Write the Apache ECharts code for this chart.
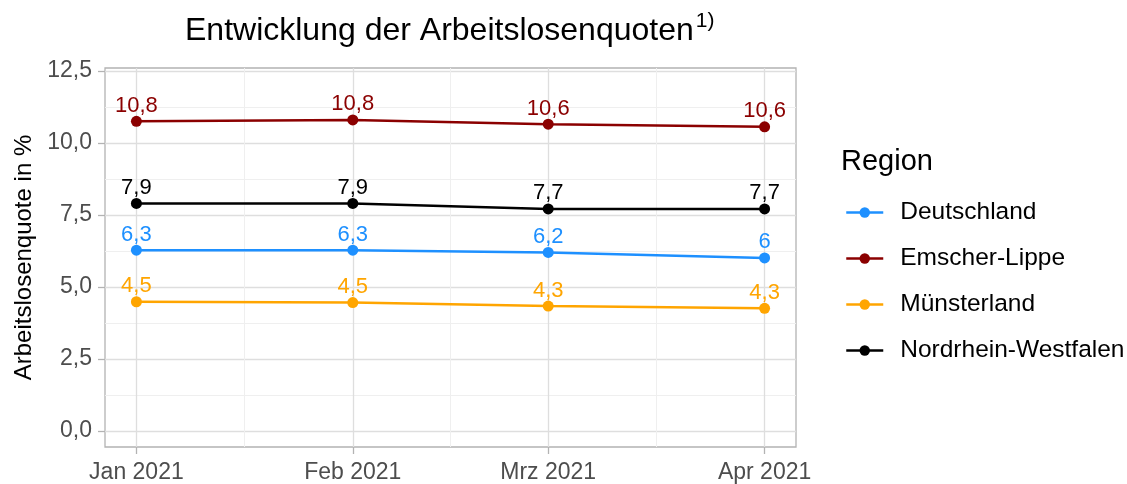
<!DOCTYPE html>
<html>
<head>
<meta charset="utf-8">
<script src="https://cdn.jsdelivr.net/npm/echarts@6/dist/echarts.min.js"></script>
<style>
html,body{margin:0;padding:0;background:#fff}
#chart{width:1127px;height:484px}
</style>
</head>
<body>
<div id="chart"></div>
<script>
// Monatswerte (Arbeitslosenquote in %)
var months = ['2021-01-01', '2021-02-01', '2021-03-01', '2021-04-01']
var monthLabels = ['Jan 2021', 'Feb 2021', 'Mrz 2021', 'Apr 2021']
var regions = ['Deutschland', 'Emscher-Lippe', 'Münsterland', 'Nordrhein-Westfalen']
var colors = ['#1e90ff', '#8b0000', '#ffa500', '#000000']

var deutschland = [6.28, 6.28, 6.2, 6.01]
var emscherLippe = [10.75, 10.8, 10.65, 10.56]
var muensterland = [4.49, 4.46, 4.34, 4.26]
var nrw = [7.9, 7.9, 7.71, 7.71]

var deutschlandLabels = ['6,3', '6,3', '6,2', '6']
var emscherLippeLabels = ['10,8', '10,8', '10,6', '10,6']
var muensterlandLabels = ['4,5', '4,5', '4,3', '4,3']
var nrwLabels = ['7,9', '7,9', '7,7', '7,7']

var yTicks = [0, 2.5, 5, 7.5, 10, 12.5]
var yMinor = [1.25, 3.75, 6.25, 8.75, 11.25]

var font = '"Liberation Sans", Arial, sans-serif'

// Tage seit Jan 2021 als x-Position
var day0 = Date.parse(months[0])
var days = months.map(function (m) { return (Date.parse(m) - day0) / 86400000 })
var xMinor = []
for (let i = 0; i < days.length - 1; i++) {
	xMinor.push((days[i] + days[i + 1]) / 2)
}

function makeSeries(name, values, labels, color) {
	return {
		name: name,
		type: 'line',
		data: values.map(function (v, i) { return [days[i], v] }),
		symbol: 'circle',
		symbolSize: 11,
		itemStyle: {color: color},
		lineStyle: {color: color, width: 2.5},
		label: {
			show: true,
			position: 'top',
			distance: -1,
			color: color,
			fontSize: 22,
			fontFamily: font,
			formatter: function (p) { return labels[p.dataIndex] }
		}
	}
}

var chart = echarts.init(document.getElementById('chart'))
var option = {
	animation: false,
	backgroundColor: '#fff',
	title: [
		{
			text: '{a|Entwicklung der Arbeitslosenquoten}{s|1)}',
			left: 180,
			top: 6,
			textStyle: {
				rich: {
					a: {fontSize: 32, lineHeight: 40, fontWeight: 'normal', fontFamily: font, color: '#000'},
					s: {fontSize: 21, lineHeight: 13, fontWeight: 'normal', fontFamily: font, color: '#000', verticalAlign: 'top', padding: [0, 0, 0, 2]}
				}
			}
		},
		{
			text: 'Region',
			left: 836,
			top: 142,
			textStyle: {fontSize: 29, fontWeight: 'normal', fontFamily: font, color: '#000'}
		}
	],
	legend: {
		orient: 'vertical',
		left: 840,
		top: 195,
		itemWidth: 37,
		itemHeight: 13,
		itemGap: 21,
		data: regions,
		lineStyle: {width: 2.5},
		textStyle: {fontSize: 24.5, fontFamily: font, color: '#000', lineHeight: 24, padding: [0, 0, 0, 12]}
	},
	grid: {
		left: 105,
		right: 331,
		top: 68,
		bottom: 36,
		show: true,
		borderColor: '#b3b3b3',
		borderWidth: 1.3
	},
	xAxis: [
		{
			type: 'value',
			min: -4.5,
			max: 94.5,
			axisLine: {show: false, onZero: false},
			axisTick: {show: true, customValues: days, length: 7, lineStyle: {color: '#b3b3b3', width: 1.3}},
			axisLabel: {
				customValues: days,
				fontSize: 23,
				fontFamily: font,
				color: '#4d4d4d',
				margin: 14,
				formatter: function (v) { return monthLabels[days.indexOf(v)] }
			},
			splitLine: {show: true, lineStyle: {color: '#dedede', width: 1.3}}
		},
		{
			type: 'value',
			min: -4.5,
			max: 94.5,
			position: 'bottom',
			axisLine: {show: false, onZero: false},
			axisTick: {show: false, customValues: xMinor},
			axisLabel: {show: false},
			splitLine: {show: true, lineStyle: {color: '#efefef', width: 1}}
		}
	],
	yAxis: [
		{
			type: 'value',
			min: -0.55,
			max: 12.6,
			name: 'Arbeitslosenquote in %',
			nameLocation: 'middle',
			nameGap: 62,
			nameTextStyle: {fontSize: 24, fontFamily: font, color: '#000'},
			axisLine: {show: false, onZero: false},
			axisTick: {show: true, customValues: yTicks, length: 7, lineStyle: {color: '#b3b3b3', width: 1.3}},
			axisLabel: {
				customValues: yTicks,
				fontSize: 23,
				fontFamily: font,
				color: '#4d4d4d',
				margin: 13,
				formatter: function (v) { return v.toFixed(1).replace('.', ',') }
			},
			splitLine: {show: true, lineStyle: {color: '#dedede', width: 1.3}}
		},
		{
			type: 'value',
			min: -0.55,
			max: 12.6,
			position: 'left',
			axisLine: {show: false, onZero: false},
			axisTick: {show: false, customValues: yMinor},
			axisLabel: {show: false},
			splitLine: {show: true, lineStyle: {color: '#efefef', width: 1}}
		}
	],
	series: [
		makeSeries(regions[0], deutschland, deutschlandLabels, colors[0]),
		makeSeries(regions[1], emscherLippe, emscherLippeLabels, colors[1]),
		makeSeries(regions[2], muensterland, muensterlandLabels, colors[2]),
		makeSeries(regions[3], nrw, nrwLabels, colors[3])
	]
}
chart.setOption(option)
</script>
</body>
</html>
